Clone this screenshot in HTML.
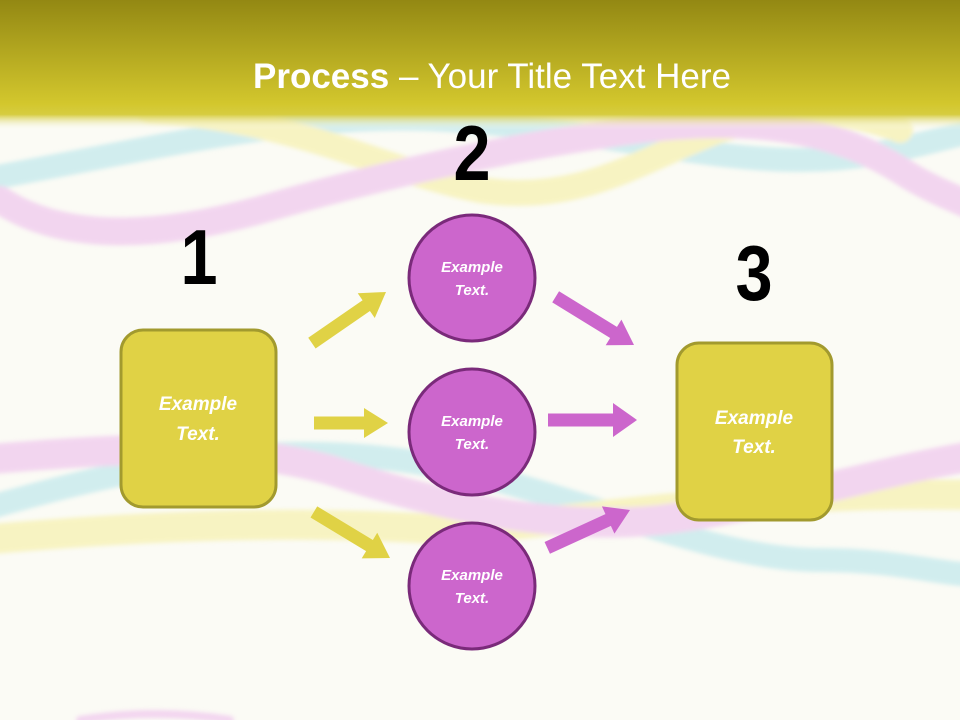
<!DOCTYPE html>
<html><head><meta charset="utf-8"><style>
html,body{margin:0;padding:0;width:960px;height:720px;overflow:hidden;background:#fbfbf5}
svg{display:block}
</style></head><body>
<svg width="960" height="720" viewBox="0 0 960 720" xmlns="http://www.w3.org/2000/svg">
<defs>
<linearGradient id="hd" x1="0" y1="0" x2="0" y2="1">
<stop offset="0" stop-color="#938813"/>
<stop offset="0.8" stop-color="#d3c72d"/>
<stop offset="0.88" stop-color="#d6cc40"/>
<stop offset="1" stop-color="#fbfbf5" stop-opacity="0"/>
</linearGradient>
<filter id="bl"><feGaussianBlur stdDeviation="2"/></filter>
</defs>
<rect width="960" height="720" fill="#fbfbf5"/>
<g fill="none" stroke-linecap="round" opacity="0.5" filter="url(#bl)">
<path d="M-20,180 C150,150 300,110 450,120 C600,130 700,160 800,160 C880,160 930,140 980,130" stroke="#a8e0e8" stroke-width="24"/>
<path d="M150,110 C300,120 380,170 480,190 C580,205 640,160 720,130 C800,105 850,110 900,130" stroke="#f4ec90" stroke-width="26"/>
<path d="M0,200 C60,240 150,240 260,210 C380,175 500,150 600,135 C720,115 820,120 900,170 C930,190 960,200 980,210" stroke="#eab0ea" stroke-width="28"/>
<path d="M-20,510 C120,470 250,440 400,460 C550,480 700,560 820,560 C900,560 940,575 980,575" stroke="#a8e0e8" stroke-width="24"/>
<path d="M-20,540 C150,525 300,520 450,530 C600,520 750,490 980,495" stroke="#f4ec90" stroke-width="30"/>
<path d="M-20,460 C100,450 220,440 330,470 C450,510 560,530 660,520 C780,505 880,470 980,455" stroke="#eab0ea" stroke-width="30"/>
<path d="M80,720 C130,712 180,712 230,720" stroke="#eab0ea" stroke-width="8"/>
</g>
<rect x="0" y="0" width="960" height="130" fill="url(#hd)"/>
<text x="492" y="88" text-anchor="middle" font-family="'Liberation Sans',sans-serif" font-size="35" fill="#fff"><tspan font-weight="bold">Process</tspan> – Your Title Text Here</text>
<g font-family="'Liberation Sans',sans-serif" font-weight="bold" font-size="74" fill="#000" text-anchor="middle">
<text transform="translate(199,284) scale(0.9,1.05)">1</text>
<text transform="translate(472,180) scale(0.9,1.05)">2</text>
<text transform="translate(754,300) scale(0.9,1.05)">3</text>
</g>
<g>
<polygon fill="#e0d245" points="0,-6.5 -24,-6.5 -24,-15 0,0 -24,15 -24,6.5 -90,6.5 -90,-6.5" transform="translate(386,292) rotate(-34.6)"/>
<polygon fill="#e0d245" points="0,-6.5 -24,-6.5 -24,-15 0,0 -24,15 -24,6.5 -74,6.5 -74,-6.5" transform="translate(388,423)"/>
<polygon fill="#e0d245" points="0,-6.5 -24,-6.5 -24,-15 0,0 -24,15 -24,6.5 -89,6.5 -89,-6.5" transform="translate(390,558) rotate(31.2)"/>
<polygon fill="#cc66cc" points="0,-6.5 -24,-6.5 -24,-15 0,0 -24,15 -24,6.5 -92,6.5 -92,-6.5" transform="translate(634,345) rotate(31.6)"/>
<polygon fill="#cc66cc" points="0,-6.5 -24,-6.5 -24,-17 0,0 -24,17 -24,6.5 -89,6.5 -89,-6.5" transform="translate(637,420)"/>
<polygon fill="#cc66cc" points="0,-6.5 -24,-6.5 -24,-15 0,0 -24,15 -24,6.5 -91,6.5 -91,-6.5" transform="translate(630,510) rotate(-24.6)"/>
</g>
<rect x="121" y="330" width="155" height="177" rx="22" fill="#e0d245" stroke="#a29a2e" stroke-width="3"/>
<rect x="677" y="343" width="155" height="177" rx="22" fill="#e0d245" stroke="#a29a2e" stroke-width="3"/>
<g fill="#cc66cc" stroke="#7a2a7a" stroke-width="3">
<circle cx="472" cy="278" r="63"/>
<circle cx="472" cy="432" r="63"/>
<circle cx="472" cy="586" r="63"/>
</g>
<g font-family="'Liberation Sans',sans-serif" font-weight="bold" font-style="italic" fill="#fff" text-anchor="middle">
<text x="198" y="410" font-size="19">Example</text>
<text x="198" y="440" font-size="19">Text.</text>
<text x="754" y="424" font-size="19">Example</text>
<text x="754" y="453" font-size="19">Text.</text>
<text x="472" y="272" font-size="15">Example</text>
<text x="472" y="295" font-size="15">Text.</text>
<text x="472" y="426" font-size="15">Example</text>
<text x="472" y="449" font-size="15">Text.</text>
<text x="472" y="580" font-size="15">Example</text>
<text x="472" y="603" font-size="15">Text.</text>
</g>
</svg>
</body></html>
